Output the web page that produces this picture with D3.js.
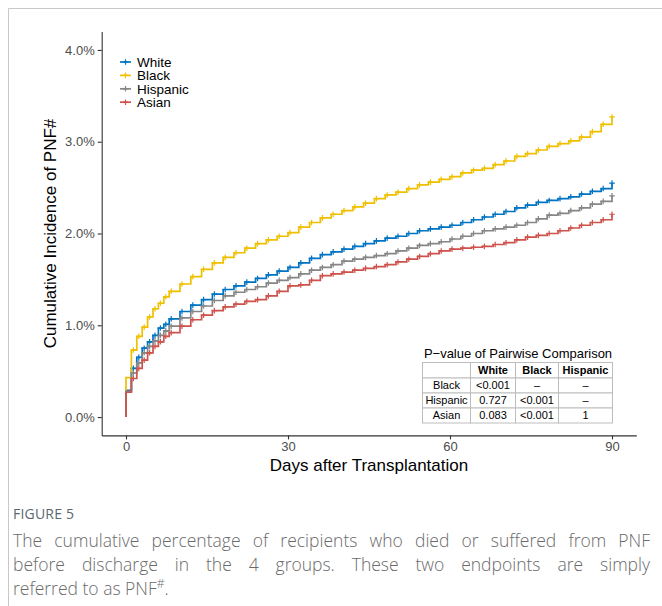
<!DOCTYPE html>
<html>
<head>
<meta charset="utf-8">
<script src="https://cdn.jsdelivr.net/npm/d3@7"></script>
<style>
  body { margin: 0; background: #fff; }
  #wrap { position: relative; width: 662px; height: 606px; overflow: hidden; }
  svg { position: absolute; left: 0; top: 0; }
  .fig { position: absolute; left: 13px; top: 505px; font-family: "Open Sans", sans-serif;
         font-size: 14px; line-height: 17px; color: #5b6670; letter-spacing: 0.2px; }
  .cap { position: absolute; left: 13px; top: 528px; width: 637px; font-family: "Open Sans", sans-serif;
         font-size: 17.5px; line-height: 24px; color: #6a6a6a; font-weight: 300; }
  .cap .j { text-align: justify; text-align-last: justify; }
</style>
</head>
<body>
<div id="wrap">
  <svg id="chart" width="662" height="606"></svg>
  <div class="fig">FIGURE 5</div>
  <div class="cap">
    <div class="j">The cumulative percentage of recipients who died or suffered from PNF</div>
    <div class="j">before discharge in the 4 groups. These two endpoints are simply</div>
    <div>referred to as PNF<sup style="font-size:12px;line-height:0">#</sup>.</div>
  </div>
</div>
<script>
// days at which the step values were read
const days = [0, 1, 2, 3, 4, 5, 6, 7, 8, 10, 12, 14, 16, 18, 20, 22, 24, 26, 28, 30,
  32, 34, 36, 38, 40, 42, 44, 46, 48, 50, 52, 54, 56, 58, 60, 62, 64, 66, 68, 70,
  72, 74, 76, 78, 80, 82, 84, 86, 88, 90];

// cumulative incidence (%) per group
const white = [0.29, 0.53, 0.65, 0.75, 0.82, 0.89, 0.97, 1.01, 1.07, 1.15, 1.22, 1.28, 1.34, 1.39, 1.43, 1.47, 1.51, 1.55, 1.59, 1.63,
  1.68, 1.73, 1.77, 1.80, 1.83, 1.86, 1.89, 1.92, 1.95, 1.97, 2.00, 2.03, 2.05, 2.07, 2.09, 2.12, 2.15, 2.18, 2.21, 2.24,
  2.28, 2.31, 2.34, 2.36, 2.38, 2.40, 2.43, 2.46, 2.49, 2.55];
const black = [0.43, 0.73, 0.88, 0.98, 1.09, 1.18, 1.24, 1.31, 1.37, 1.45, 1.53, 1.61, 1.68, 1.74, 1.79, 1.84, 1.89, 1.93, 1.97, 2.01,
  2.07, 2.12, 2.17, 2.21, 2.25, 2.29, 2.33, 2.38, 2.42, 2.45, 2.49, 2.53, 2.56, 2.59, 2.62, 2.66, 2.69, 2.71, 2.75, 2.79,
  2.84, 2.87, 2.91, 2.95, 2.98, 3.01, 3.05, 3.11, 3.19, 3.27];
const hispanic = [0.28, 0.48, 0.59, 0.70, 0.77, 0.83, 0.89, 0.94, 0.99, 1.08, 1.15, 1.21, 1.27, 1.32, 1.36, 1.39, 1.42, 1.46, 1.49, 1.52,
  1.56, 1.60, 1.63, 1.66, 1.70, 1.72, 1.74, 1.76, 1.78, 1.81, 1.84, 1.87, 1.89, 1.91, 1.94, 1.97, 2.00, 2.03, 2.05, 2.07,
  2.09, 2.12, 2.16, 2.20, 2.22, 2.25, 2.28, 2.32, 2.35, 2.41];
const asian = [0.27, 0.42, 0.53, 0.62, 0.70, 0.77, 0.82, 0.88, 0.92, 0.99, 1.06, 1.11, 1.16, 1.20, 1.23, 1.26, 1.28, 1.32, 1.37, 1.43,
  1.44, 1.49, 1.54, 1.56, 1.58, 1.60, 1.62, 1.64, 1.66, 1.69, 1.72, 1.75, 1.78, 1.81, 1.83, 1.84, 1.85, 1.86, 1.88, 1.90,
  1.93, 1.96, 1.98, 2.00, 2.03, 2.06, 2.09, 2.12, 2.15, 2.21];

const groups = ["White", "Black", "Hispanic", "Asian"];
const groupValues = [white, black, hispanic, asian];
const groupColors = ["#0073C2", "#EFC000", "#868686", "#CD534C"];

const xTicks = [0, 30, 60, 90];
const yTicks = [0, 1, 2, 3, 4];

// pairwise p-value table
const tableTitle = "P\u2212value of Pairwise Comparison";
const tableCols = ["White", "Black", "Hispanic"];
const tableRows = ["Black", "Hispanic", "Asian"];
const tableVals = [
  ["<0.001", "\u2013", "\u2013"],
  ["0.727", "<0.001", "\u2013"],
  ["0.083", "<0.001", "1"]
];

const svg = d3.select("#chart");
const FONT = "'Liberation Sans', Arial, sans-serif";

// outer frame
svg.append("path")
  .attr("d", "M8.5,606V8.5H662")
  .attr("fill", "none")
  .attr("stroke", "#c8c8c8")
  .attr("stroke-width", 1);

const x = d3.scaleLinear().domain([-4.5, 94.5]).range([101.7, 636.3]);
const y = d3.scaleLinear().domain([-0.2, 4.2]).range([435.4, 31.6]);

// axes
const xAxis = svg.append("g")
  .attr("transform", `translate(0,${y(-0.2)})`)
  .call(d3.axisBottom(x).tickValues(xTicks).tickSize(4).tickSizeOuter(0).tickPadding(2));
const yAxis = svg.append("g")
  .attr("transform", `translate(${x(-4.5)},0)`)
  .call(d3.axisLeft(y).tickValues(yTicks).tickSize(4).tickSizeOuter(0).tickPadding(3)
    .tickFormat((d) => d3.format(".1f")(d) + "%"));

[xAxis, yAxis].forEach((g) => {
  g.select(".domain").attr("stroke", "#333").attr("stroke-width", 1.1);
  g.selectAll(".tick line").attr("stroke", "#333").attr("stroke-width", 1.1);
  g.selectAll(".tick text")
    .attr("fill", "#4d4d4d")
    .attr("font-family", FONT)
    .attr("font-size", "13px");
});

svg.append("text")
  .attr("x", (x(-4.5) + x(94.5)) / 2)
  .attr("y", 471)
  .attr("text-anchor", "middle")
  .attr("font-family", FONT)
  .attr("font-size", "17px")
  .attr("fill", "#000")
  .text("Days after Transplantation");

svg.append("text")
  .attr("transform", `translate(56,${(y(-0.2) + y(4.2)) / 2}) rotate(-90)`)
  .attr("text-anchor", "middle")
  .attr("font-family", FONT)
  .attr("font-size", "17px")
  .attr("fill", "#000")
  .text("Cumulative Incidence of PNF#");

// step curves
const line = d3.line()
  .x((d) => x(d[0]))
  .y((d) => y(d[1]))
  .curve(d3.curveStepAfter);

const plus = (g, cx, cy, color, s) => {
  g.append("path")
    .attr("d", `M${cx - s},${cy}H${cx + s}M${cx},${cy - s}V${cy + s}`)
    .attr("stroke", color)
    .attr("stroke-width", 1.2)
    .attr("fill", "none");
};

groups.forEach((name, gi) => {
  const vals = groupValues[gi];
  const pts = [[0, 0]].concat(days.map((d, i) => [d, vals[i]]));
  const g = svg.append("g");
  g.append("path")
    .datum(pts)
    .attr("d", line)
    .attr("fill", "none")
    .attr("stroke", groupColors[gi])
    .attr("stroke-width", 1.7)
    .attr("stroke-linejoin", "miter");
  days.forEach((d, i) => {
    if (i === 0) return;
    plus(g, x(d) + (i === days.length - 1 ? 0 : 2), y(vals[i]), groupColors[gi], 2.8);
  });
});

// legend
const legend = svg.append("g").attr("transform", "translate(120,62)");
groups.forEach((name, i) => {
  const gy = i * 13.4;
  legend.append("line")
    .attr("x1", 0).attr("x2", 11)
    .attr("y1", gy).attr("y2", gy)
    .attr("stroke", groupColors[i])
    .attr("stroke-width", 1.7);
  plus(legend, 5.5, gy, groupColors[i], 2.8);
  legend.append("text")
    .attr("x", 17)
    .attr("y", gy)
    .attr("dy", "0.35em")
    .attr("font-family", FONT)
    .attr("font-size", "13.5px")
    .attr("fill", "#000")
    .text(name);
});

// p-value table
const colEdges = [422, 470, 515, 558, 612];
const rowEdges = [362, 377.5, 392.5, 407.5, 422.5];
const tbl = svg.append("g");

tbl.append("text")
  .attr("x", (colEdges[0] + colEdges[4]) / 2 + 1)
  .attr("y", 357.5)
  .attr("text-anchor", "middle")
  .attr("font-family", FONT)
  .attr("font-size", "13px")
  .attr("fill", "#000")
  .text(tableTitle);

const cells = [["", ...tableCols]].concat(tableRows.map((r, i) => [r, ...tableVals[i]]));
cells.forEach((row, ri) => {
  row.forEach((txt, ci) => {
    const x0 = colEdges[ci], x1 = colEdges[ci + 1];
    const y0 = rowEdges[ri], y1 = rowEdges[ri + 1];
    tbl.append("rect")
      .attr("x", x0 + 0.5).attr("y", y0 + 0.5)
      .attr("width", x1 - x0).attr("height", y1 - y0)
      .attr("fill", "#fff")
      .attr("stroke", "#bdbdbd")
      .attr("stroke-width", 1);
    tbl.append("text")
      .attr("x", (x0 + x1) / 2 + 0.5)
      .attr("y", (y0 + y1) / 2 + 0.5)
      .attr("dy", "0.36em")
      .attr("text-anchor", "middle")
      .attr("font-family", FONT)
      .attr("font-size", "11px")
      .attr("font-weight", ri === 0 ? "bold" : "normal")
      .attr("fill", "#000")
      .text(txt);
  });
});
</script>
</body>
</html>
